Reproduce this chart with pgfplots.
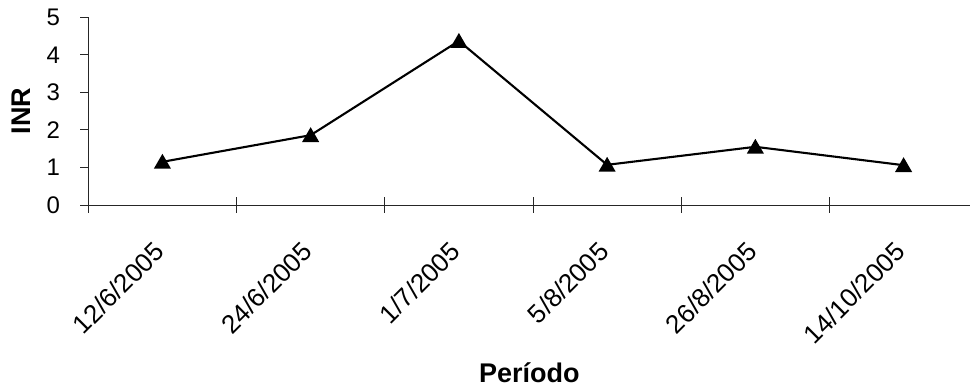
\documentclass[border=0pt]{standalone}
\usepackage{fontspec}
\setmainfont{Liberation Sans}
\usepackage{pgfplots}
\pgfplotsset{compat=1.18}

\begin{document}
\begin{tikzpicture}
\useasboundingbox (0pt,0pt) rectangle (971pt,387pt);
\begin{axis}[
  at={(88.3pt,182pt)}, anchor=south west,
  scale only axis,
  width=882pt, height=187.7pt,
  xmin=-0.5, xmax=5.45,
  ymin=0, ymax=5,
  axis lines*=left,
  axis line style={line width=0.9pt, black!85},
  clip=false,
  xtick=data,
  xticklabels={12/6/2005,24/6/2005,1/7/2005,5/8/2005,26/8/2005,14/10/2005},
  xtick style={draw=none},
  ytick={0,1,2,3,4,5},
  tick align=outside,
  major tick length=8pt,
  ytick style={line width=0.9pt, black!85},
  /pgf/number format/assume math mode=true,
  yticklabel style={font=\fontsize{24}{24}\selectfont, inner sep=0pt, anchor=east, xshift=-20pt},
  xticklabel style={font=\fontsize{26}{26}\selectfont, inner sep=0pt,
                    rotate=45, anchor=north east, xshift=-26.2pt, yshift=-12pt},
  xlabel={Período},
  ylabel={INR},
  xlabel style={font=\fontsize{27}{27}\selectfont\bfseries,
                at={([yshift=-178pt]axis description cs:0.5,0)}, anchor=base},
  ylabel style={font=\fontsize{27}{27}\selectfont\bfseries,
                at={([xshift=-67pt]axis description cs:0,0.5)}, anchor=center},
]
  % category boundary ticks crossing the horizontal axis
  \pgfplotsinvokeforeach{-0.5,0.5,1.5,2.5,3.5,4.5}{
    \draw[line width=0.9pt, black!85] ([yshift=-8pt]axis cs:#1,0) -- ([yshift=8pt]axis cs:#1,0);
  }
  \addplot[black, line width=2.1pt, mark=triangle*, mark size=7.8pt,
           mark options={solid, fill=black, yshift=-1.9pt}]
    coordinates {(0,1.15) (1,1.86) (2,4.37) (3,1.07) (4,1.55) (5,1.06)};
\end{axis}
\end{tikzpicture}
\end{document}
